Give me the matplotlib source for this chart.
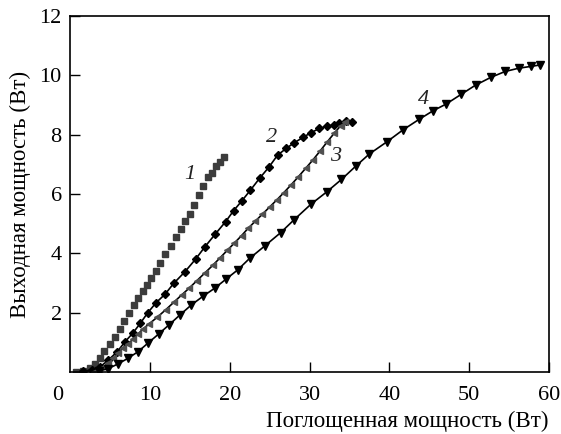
import matplotlib
matplotlib.use("Agg")
import matplotlib.pyplot as plt

plt.rcParams["font.family"] = ["Liberation Serif", "DejaVu Serif"]

# Curve 1 (squares, no line)
x1 = [0.8, 1.6, 2.45, 3.1, 3.7, 4.3, 4.95, 5.6, 6.2, 6.8, 7.45, 8.0, 8.55, 9.1,
      9.65, 10.2, 10.75, 11.3, 11.9, 12.6, 13.25, 13.9, 14.4, 15.0, 15.5, 16.2,
      16.7, 17.3, 17.8, 18.3, 18.75, 19.25]
y1 = [0.01, 0.03, 0.12, 0.27, 0.46, 0.72, 0.94, 1.19, 1.44, 1.73, 2.0, 2.25,
      2.5, 2.72, 2.94, 3.16, 3.41, 3.68, 3.97, 4.26, 4.54, 4.81, 5.09, 5.33,
      5.63, 5.97, 6.27, 6.56, 6.72, 6.94, 7.09, 7.24]

# Curve 2 (diamonds)
x2 = [1.6, 2.7, 3.8, 4.8, 5.9, 6.9, 7.9, 8.8, 9.75, 10.8, 11.9, 13.0, 14.4,
      15.75, 16.9, 18.2, 19.5, 20.5, 21.5, 22.6, 23.75, 24.9, 26.0, 27.1, 28.1,
      29.2, 30.2, 31.25, 32.2, 33.1, 33.75, 34.6, 35.3]
y2 = [0.02, 0.07, 0.18, 0.40, 0.68, 1.02, 1.32, 1.64, 2.0, 2.34, 2.62, 2.99,
      3.38, 3.81, 4.22, 4.65, 5.07, 5.44, 5.76, 6.13, 6.53, 6.90, 7.31, 7.54,
      7.73, 7.91, 8.07, 8.21, 8.29, 8.32, 8.38, 8.45, 8.42]

# Curve 3 (left triangles)
x3 = [3.0, 3.6, 4.2, 4.8, 5.4, 6.0, 6.6, 7.25, 7.9, 8.5, 9.1, 9.9, 10.9, 12.0,
      13.0, 14.0, 14.9, 15.9, 16.9, 17.9, 18.8, 19.7, 20.6, 21.5, 22.3, 23.2,
      24.1, 25.0, 25.9, 26.8, 27.7, 28.6, 29.5, 30.4, 31.3, 32.2, 33.1, 33.9,
      34.5]
y3 = [0.0, 0.07, 0.18, 0.30, 0.46, 0.63, 0.80, 0.95, 1.10, 1.27, 1.44, 1.62,
      1.84, 2.10, 2.35, 2.60, 2.82, 3.08, 3.34, 3.60, 3.85, 4.10, 4.35, 4.60,
      4.84, 5.08, 5.32, 5.56, 5.80, 6.05, 6.31, 6.58, 6.86, 7.14, 7.44, 7.75,
      8.05, 8.30, 8.42]

# Curve 4 (down triangles)
x4 = [3.6, 4.75, 6.0, 7.25, 8.5, 9.75, 11.1, 12.45, 13.8, 15.2, 16.7, 18.1,
      19.5, 21.0, 22.5, 24.4, 26.4, 28.1, 30.2, 32.2, 34.0, 35.8, 37.5, 39.7,
      41.7, 43.75, 45.5, 47.1, 49.0, 50.8, 52.7, 54.5, 56.2, 57.7, 58.9]
y4 = [0.03, 0.11, 0.27, 0.46, 0.68, 0.97, 1.28, 1.60, 1.93, 2.26, 2.56, 2.82,
      3.12, 3.44, 3.83, 4.25, 4.70, 5.14, 5.66, 6.08, 6.49, 6.94, 7.35, 7.76,
      8.16, 8.52, 8.81, 9.03, 9.36, 9.67, 9.93, 10.13, 10.24, 10.30, 10.35]

xticks = [10, 20, 30, 40, 50, 60]
yticks = [2, 4, 6, 8, 10, 12]
curve_labels = ["1", "2", "3", "4"]
label_pos = [(15.0, 6.67), (25.2, 7.92), (33.3, 7.25), (44.3, 9.17)]

fig = plt.figure(figsize=(5.61, 4.34), dpi=100)
ax = fig.add_axes([0.1248, 0.1429, 0.8538, 0.8202])

ax.plot(x1, y1, linestyle="none", marker="s", markersize=4.6, color="#3c3c3c")
ax.plot(x2, y2, color="black", linewidth=1.2, marker="D", markersize=4.2,
        markerfacecolor="black", markeredgecolor="black")
ax.plot(x3, y3, color="black", linewidth=1.2, marker="<", markersize=5,
        markerfacecolor="#505050", markeredgecolor="#505050")
ax.plot(x4, y4, color="black", linewidth=1.2, marker="v", markersize=5.6,
        markerfacecolor="black", markeredgecolor="black")

for label, (tx, ty) in zip(curve_labels, label_pos):
    ax.text(tx, ty, label, fontsize=16, style="italic", ha="center",
            va="center", color="#222222")

ax.set_xlim(0, 60)
ax.set_ylim(0, 12)
ax.set_xticks(xticks)
ax.set_yticks(yticks)
ax.tick_params(direction="in", length=7, width=1.0, labelsize=16)
ax.tick_params(axis="x", pad=10)
ax.tick_params(axis="y", pad=6)
for s in ax.spines.values():
    s.set_linewidth(1.2)

# corner zero shared by both axes
ax.text(-0.015, -0.065, "0", transform=ax.transAxes, fontsize=16,
        ha="right", va="center")

ax.set_xlabel("Поглощенная мощность (Вт)", fontsize=16.5, loc="right",
              labelpad=4)
ax.set_ylabel("Выходная мощность (Вт)", fontsize=16.5, labelpad=6)

fig.savefig("out.png", dpi=100)
